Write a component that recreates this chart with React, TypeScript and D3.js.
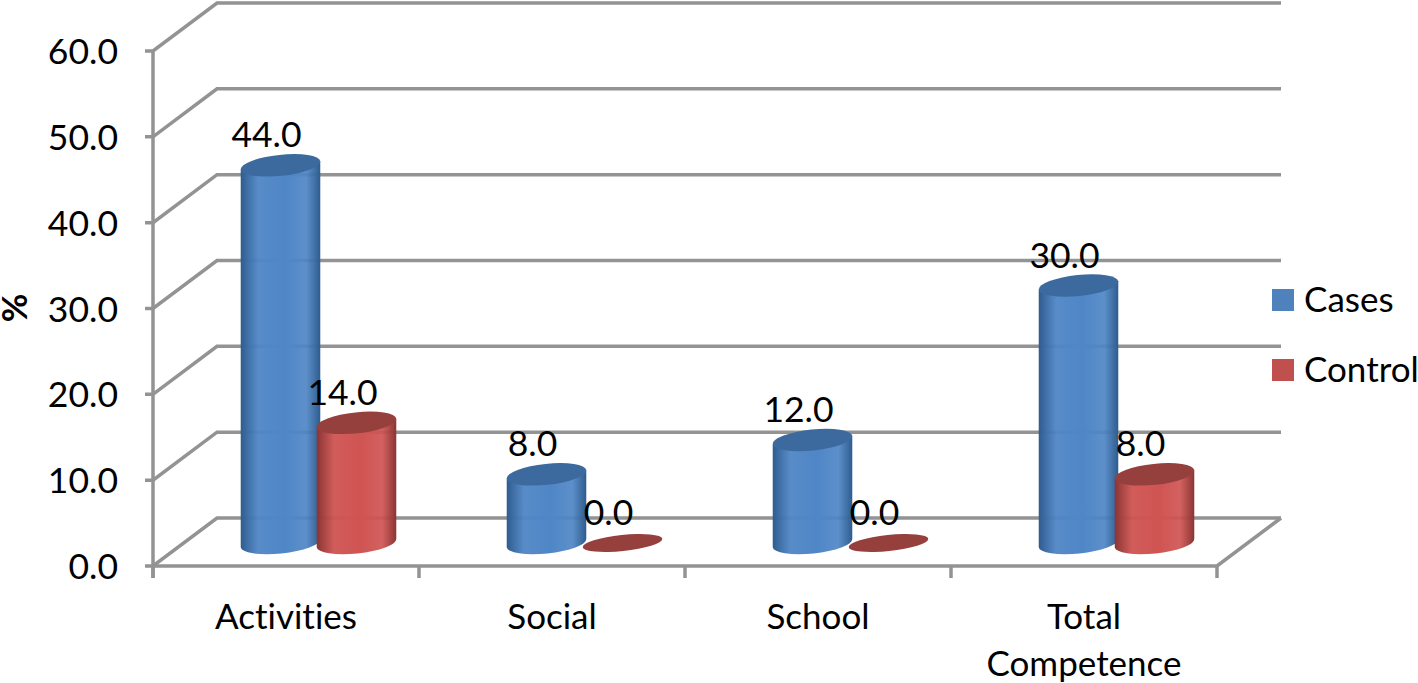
import React from "react";
import * as d3 from "d3";

const categories = ["Activities", "Social", "School", "Total Competence"];
const categoryLines = [["Activities"], ["Social"], ["School"], ["Total", "Competence"]];
const seriesNames = ["Cases", "Control"];
const cases = [44, 8, 12, 30];
const control = [14, 0, 0, 8];
const ticks = [0, 10, 20, 30, 40, 50, 60];

const W = 1418, H = 683;
const FONT = "Lato, 'Open Sans', sans-serif";
const GRID = "#939393";
const y = d3.scaleLinear().domain([0, 60]).range([566, 51]);
const x = d3.scaleBand<string>().domain(categories).range([153, 1217]);
const depthX = 64, depthY = -48;
const barDX = 32.5, barDY = -23;
const rx = 40, ry = 10.5, rot = -6;
const dx = rx * Math.cos((rot * Math.PI) / 180);
const dyy = rx * Math.sin((rot * Math.PI) / 180);

const colors = [
  { id: "blue", edge: "#2f5c8f", mid: "#4f86c6", top: "#3c6a9e", swatch: "#4f81bd" },
  { id: "red", edge: "#8a3534", mid: "#cf5452", top: "#96403e", swatch: "#c0504d" },
];

function Cylinder({ cx, v, c }: { cx: number; v: number; c: (typeof colors)[number] }) {
  const yb = y(0) + barDY;
  const yt = y(v) + barDY;
  const side = `M${cx - dx},${yt - dyy} L${cx - dx},${yb - dyy} A${rx},${ry} ${rot} 0 0 ${cx + dx},${yb + dyy} L${cx + dx},${yt + dyy} Z`;
  return (
    <g>
      {v > 0 && <path d={side} fill={`url(#grad-${c.id})`} />}
      <ellipse cx={cx} cy={yt} rx={rx} ry={v > 0 ? ry : 8} transform={`rotate(${rot} ${cx} ${yt})`} fill={c.top} />
    </g>
  );
}

export default function App() {
  const bw = 76;
  return (
    <svg width={W} height={H} viewBox={`0 0 ${W} ${H}`} style={{ position: "absolute", left: 0, top: 0, background: "#fff" }}>
      <defs>
        {colors.map((c) => (
          <linearGradient key={c.id} id={`grad-${c.id}`} x1="0" x2="1" y1="0" y2="0">
            <stop offset="0" stopColor={c.edge} />
            <stop offset="0.22" stopColor={c.mid} stopOpacity={0.95} />
            <stop offset="0.55" stopColor={c.mid} />
            <stop offset="0.82" stopColor={c.mid} stopOpacity={0.92} />
            <stop offset="1" stopColor={c.edge} />
          </linearGradient>
        ))}
      </defs>
      <g stroke={GRID} strokeWidth={3.5} fill="none">
        {ticks.map((t) => (
          <polyline key={t} points={`145,${y(t)} 153,${y(t)} ${153 + depthX},${y(t) + depthY} ${1217 + depthX},${y(t) + depthY}`} />
        ))}
        <line x1={153} x2={153} y1={y(60)} y2={578} />
        <polyline points={`153,566 1217,566 ${1217 + depthX},${566 + depthY}`} />
        {[...categories.map((c) => x(c) as number), 1217].map((p) => (
          <line key={p} x1={p} x2={p} y1={566} y2={578} />
        ))}
      </g>
      {categories.map((cat, i) => {
        const center = (x(cat) as number) + x.bandwidth() / 2 + barDX;
        const cxs = [center - bw / 2, center + bw / 2];
        const vals = [cases[i], control[i]];
        return (
          <g key={cat}>
            {vals.map((v, s) => (
              <Cylinder key={s} cx={cxs[s]} v={v} c={colors[s]} />
            ))}
          </g>
        );
      })}
      <g fontFamily={FONT} fontSize={35} fill="#000" style={{ fontVariantLigatures: "none" }}>
        {ticks.map((t) => (
          <text key={t} x={118} y={y(t) + 13} textAnchor="end" fontSize={35.5}>{t.toFixed(1)}</text>
        ))}
        {categories.map((cat, i) => {
          const center = (x(cat) as number) + x.bandwidth() / 2 + barDX;
          const cxs = [center - bw / 2, center + bw / 2];
          return [cases[i], control[i]].map((v, s) => (
            <text key={cat + s} x={cxs[s] - 14} y={y(v) + barDY - 18} textAnchor="middle" fontSize={35.5}>{v.toFixed(1)}</text>
          ));
        })}
        {categories.map((cat, i) =>
          categoryLines[i].map((ln, j) => (
            <text key={ln} x={(x(cat) as number) + x.bandwidth() / 2} y={629 + j * 47} textAnchor="middle">{ln}</text>
          ))
        )}
        <text transform="translate(27,308) rotate(-90)" textAnchor="middle" fontWeight={700}>%</text>
        {seriesNames.map((n, s) => (
          <g key={n}>
            <rect x={1272} y={289 + s * 70} width={22} height={22} fill={colors[s].swatch} />
            <text x={1304} y={312 + s * 70}>{n}</text>
          </g>
        ))}
      </g>
    </svg>
  );
}
